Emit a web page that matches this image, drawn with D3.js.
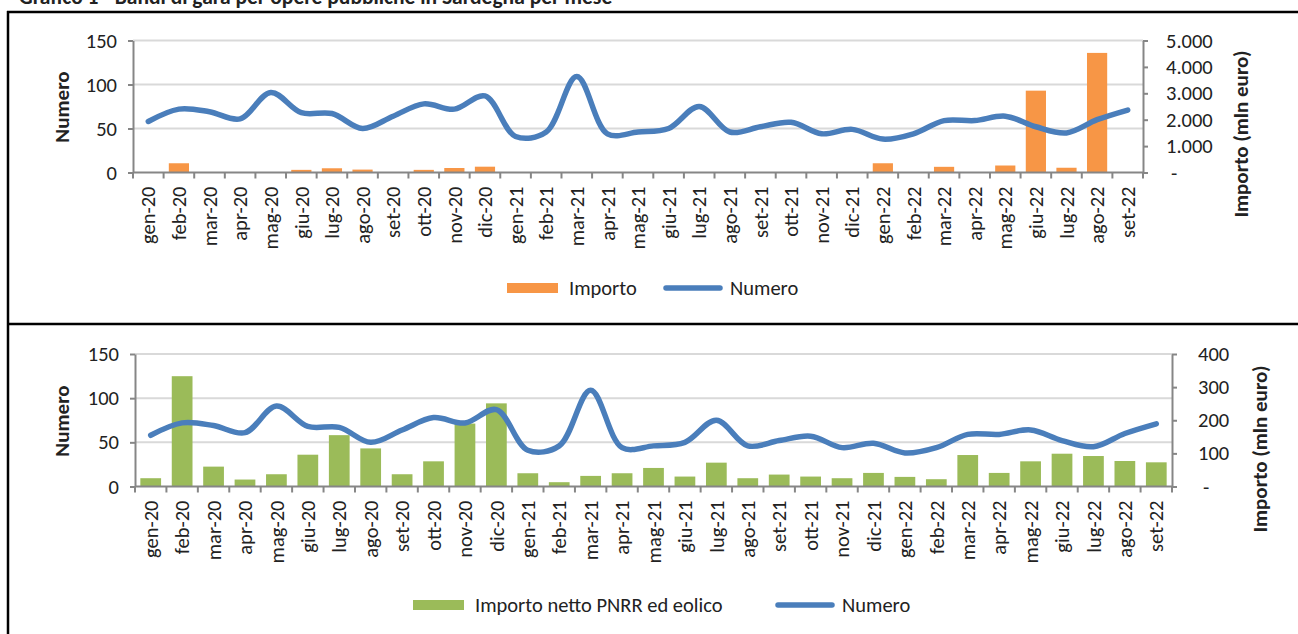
<!DOCTYPE html>
<html>
<head>
<meta charset="utf-8">
<script src="https://cdn.jsdelivr.net/npm/d3@7"></script>
<style>
body { margin: 0; background: #fff; }
svg text { font-family: Carlito, Calibri, Lato, "Liberation Sans", sans-serif; fill: #222; }
</style>
</head>
<body>
<svg id="chart" width="1298" height="634"></svg>
<script>
var months = ['gen-20','feb-20','mar-20','apr-20','mag-20','giu-20','lug-20','ago-20','set-20','ott-20','nov-20','dic-20',
              'gen-21','feb-21','mar-21','apr-21','mag-21','giu-21','lug-21','ago-21','set-21','ott-21','nov-21','dic-21',
              'gen-22','feb-22','mar-22','apr-22','mag-22','giu-22','lug-22','ago-22','set-22'];

// numero di bandi (asse sinistro, entrambi i grafici)
var numero = [58, 72, 69, 61, 91, 68, 67, 50, 64, 78, 72, 87,
              41, 46, 109, 44, 46, 50, 75, 46, 52, 57, 44, 49,
              38, 44, 59, 59, 64, 52, 45, 60, 71];

// importo totale, mln euro (grafico sopra)
var importo = [0, 350, 0, 0, 0, 100, 160, 110, 0, 100, 170, 220,
               0, 0, 0, 0, 0, 0, 0, 0, 0, 0, 0, 0,
               350, 0, 215, 0, 265, 3100, 180, 4530, 0];

// importo netto PNRR ed eolico, mln euro (grafico sotto)
var importoNetto = [25, 333, 60, 21, 37, 96, 155, 115, 37, 76, 190, 251,
                    40, 13, 32, 40, 56, 30, 72, 25, 36, 30, 25, 41,
                    29, 22, 95, 41, 76, 99, 92, 77, 73];

var numeroTicks = [0, 50, 100, 150];
var importoTicks = [0, 1000, 2000, 3000, 4000, 5000];
var importoTickLabels = ['-', '1.000', '2.000', '3.000', '4.000', '5.000'];
var nettoTicks = [0, 100, 200, 300, 400];
var nettoTickLabels = ['-', '100', '200', '300', '400'];

var svg = d3.select('#chart');
var axisColor = '#868686';
var lineColor = '#4A7EBB';
var fs = '20.5px';
var fsBold = '21px';

// cornice e titolo
svg.append('text')
    .attr('x', 19).attr('y', 4)
    .style('font-size', '21.5px').style('font-weight', 'bold')
    .text('Grafico 1 - Bandi di gara per opere pubbliche in Sardegna per mese');
svg.append('line').attr('x1', 7).attr('x2', 1298).attr('y1', 12).attr('y2', 12)
    .attr('stroke', '#000').attr('stroke-width', 2.5);
svg.append('line').attr('x1', 7).attr('x2', 1298).attr('y1', 324).attr('y2', 324)
    .attr('stroke', '#000').attr('stroke-width', 2.5);
svg.append('line').attr('x1', 8).attr('x2', 8).attr('y1', 11).attr('y2', 634)
    .attr('stroke', '#000').attr('stroke-width', 2.5);

function drawPanel(o) {
    var g = svg.append('g');

    var x = d3.scaleBand().domain(months).range(o.xRange).paddingInner(0).paddingOuter(0);
    var step = x.step();
    var yL = d3.scaleLinear().domain([0, 150]).range(o.yRange);
    var yR = d3.scaleLinear().domain([0, o.rightMax]).range(o.yRange);

    // griglia
    g.selectAll('.grid').data(numeroTicks.slice(1)).enter().append('line')
        .attr('x1', o.xRange[0]).attr('x2', o.xRange[1])
        .attr('y1', function(d) { return yL(d); }).attr('y2', function(d) { return yL(d); })
        .attr('stroke', '#D9D9D9').attr('stroke-width', 2);

    // barre
    var bw = step * 0.66;
    g.selectAll('.bar').data(o.bars).enter().append('rect')
        .attr('x', function(d, i) { return x(months[i]) + (step - bw) / 2; })
        .attr('width', bw)
        .attr('y', function(d) { return yR(d); })
        .attr('height', function(d) { return yR(0) - yR(d); })
        .attr('fill', o.barColor);

    // asse sinistro
    var left = g.append('g').attr('transform', 'translate(' + o.xRange[0] + ',0)')
        .call(d3.axisLeft(yL).tickValues(numeroTicks).tickSize(5).tickSizeOuter(0).tickPadding(11));
    left.select('.domain').attr('stroke', axisColor).attr('stroke-width', 2);
    left.selectAll('.tick line').attr('stroke', axisColor).attr('stroke-width', 2);
    left.selectAll('.tick text').style('font-size', fs).attr('fill', '#222');

    // asse destro
    var right = g.append('g').attr('transform', 'translate(' + o.xRange[1] + ',0)')
        .call(d3.axisRight(yR).tickValues(o.rightTicks).tickSize(5).tickSizeOuter(0)
            .tickFormat(function(d, i) { return o.rightLabels[i]; }));
    right.select('.domain').attr('stroke', axisColor).attr('stroke-width', 2);
    right.selectAll('.tick line').attr('stroke', axisColor).attr('stroke-width', 2);
    right.selectAll('.tick text').style('font-size', fs).attr('fill', '#222')
        .attr('x', function(d, i) { return o.rightLabels[i] === '-' ? o.labelGap + 5 : o.labelGap; });

    // asse x
    var base = yL(0);
    g.append('line').attr('x1', o.xRange[0]).attr('x2', o.xRange[1])
        .attr('y1', base).attr('y2', base).attr('stroke', axisColor).attr('stroke-width', 2);
    g.selectAll('.xtick').data(months.concat(['end'])).enter().append('line')
        .attr('x1', function(d, i) { return o.xRange[0] + i * step; })
        .attr('x2', function(d, i) { return o.xRange[0] + i * step; })
        .attr('y1', base).attr('y2', base + 6)
        .attr('stroke', axisColor).attr('stroke-width', 2);
    g.selectAll('.xlabel').data(months).enter().append('text')
        .attr('transform', function(d) {
            return 'translate(' + (x(d) + step / 2) + ',' + (base + 14) + ') rotate(-90)';
        })
        .attr('text-anchor', 'end').attr('dy', '0.35em')
        .style('font-size', fs)
        .text(function(d) { return d; });

    // linea numero
    var line = d3.line()
        .x(function(d, i) { return x(months[i]) + step / 2; })
        .y(function(d) { return yL(d); })
        .curve(d3.curveCatmullRom.alpha(0.5));
    g.append('path').datum(numero).attr('d', line)
        .attr('fill', 'none').attr('stroke', lineColor).attr('stroke-width', 5.5)
        .attr('stroke-linecap', 'round').attr('stroke-linejoin', 'round');

    // titoli assi
    g.append('text').attr('transform', 'translate(62,' + o.numeroTitleY + ') rotate(-90)')
        .attr('text-anchor', 'middle').attr('dy', '0.35em')
        .style('font-size', fsBold).style('font-weight', 'bold')
        .text('Numero');
    g.append('text').attr('transform', 'translate(' + o.rightTitleX + ',' + o.rightTitleY + ') rotate(-90)')
        .attr('text-anchor', 'middle').attr('dy', '0.35em')
        .style('font-size', fsBold).style('font-weight', 'bold')
        .text('Importo (mln euro)');

    // legenda
    var lg = o.legend;
    g.append('rect').attr('x', lg.rectX).attr('y', lg.y - 5).attr('width', 51).attr('height', 10)
        .attr('fill', o.barColor);
    g.append('text').attr('x', lg.rectX + 62).attr('y', lg.y).attr('dy', '0.35em')
        .style('font-size', fs).text(o.barLabel);
    g.append('line').attr('x1', lg.lineX).attr('x2', lg.lineX + 54).attr('y1', lg.y).attr('y2', lg.y)
        .attr('stroke', lineColor).attr('stroke-width', 5.5).attr('stroke-linecap', 'round');
    g.append('text').attr('x', lg.lineX + 64).attr('y', lg.y).attr('dy', '0.35em')
        .style('font-size', fs).text('Numero');
}

drawPanel({
    xRange: [133, 1143], yRange: [172.5, 40.5],
    bars: importo, barColor: '#F79646', barLabel: 'Importo',
    rightMax: 5000, rightTicks: importoTicks, rightLabels: importoTickLabels, labelGap: 23,
    numeroTitleY: 107, rightTitleX: 1241, rightTitleY: 134,
    legend: { rectX: 507, lineX: 666, y: 288 }
});

drawPanel({
    xRange: [135, 1172], yRange: [486.5, 354],
    bars: importoNetto, barColor: '#9BBB59', barLabel: 'Importo netto PNRR ed eolico',
    rightMax: 400, rightTicks: nettoTicks, rightLabels: nettoTickLabels, labelGap: 26,
    numeroTitleY: 421, rightTitleX: 1260, rightTitleY: 449,
    legend: { rectX: 413, lineX: 778, y: 605 }
});
</script>
</body>
</html>
